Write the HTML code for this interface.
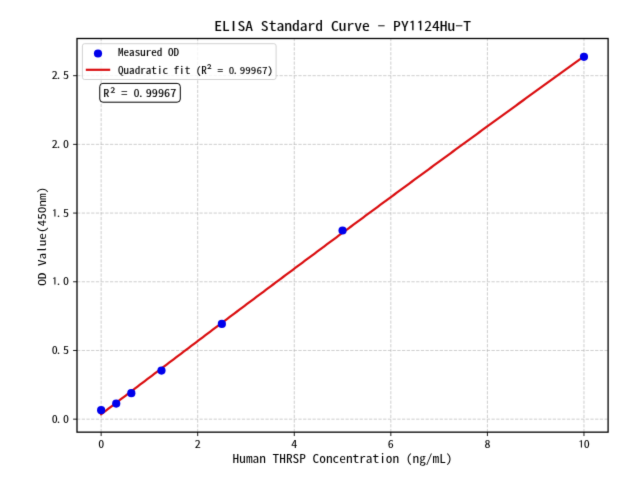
<!DOCTYPE html><html><head><meta charset="utf-8"><style>html,body{margin:0;padding:0;background:#fff;overflow:hidden}svg{display:block}text{font-family:'Noto Sans Mono CJK SC','WenQuanYi Zen Hei Mono','Noto Sans CJK SC',monospace;fill:#000;stroke:#000}</style></head><body>
<svg width="640" height="480" viewBox="0 0 640 480">
<defs><filter id="soft" x="0" y="0" width="640" height="480" filterUnits="userSpaceOnUse" color-interpolation-filters="sRGB"><feConvolveMatrix order="3" kernelMatrix="0.0100 0.0800 0.0100 0.0800 0.6400 0.0800 0.0100 0.0800 0.0100" edgeMode="duplicate"/></filter></defs>
<g filter="url(#soft)">
<rect width="640" height="480" fill="#fff"/>
<g stroke="#b0b0b0" stroke-opacity="0.7" stroke-width="0.89" stroke-dasharray="3.29 1.42" fill="none"><line x1="101.14" y1="432.15" x2="101.14" y2="38.50"/><line x1="197.70" y1="432.15" x2="197.70" y2="38.50"/><line x1="294.27" y1="432.15" x2="294.27" y2="38.50"/><line x1="390.83" y1="432.15" x2="390.83" y2="38.50"/><line x1="487.40" y1="432.15" x2="487.40" y2="38.50"/><line x1="583.96" y1="432.15" x2="583.96" y2="38.50"/><line x1="77.00" y1="419.17" x2="608.10" y2="419.17"/><line x1="77.00" y1="350.47" x2="608.10" y2="350.47"/><line x1="77.00" y1="281.77" x2="608.10" y2="281.77"/><line x1="77.00" y1="213.07" x2="608.10" y2="213.07"/><line x1="77.00" y1="144.37" x2="608.10" y2="144.37"/><line x1="77.00" y1="75.68" x2="608.10" y2="75.68"/></g>
<polyline points="101.14,414.26 103.57,412.41 105.99,410.56 108.42,408.71 110.85,406.86 113.27,405.02 115.70,403.17 118.12,401.32 120.55,399.48 122.98,397.63 125.40,395.79 127.83,393.95 130.26,392.10 132.68,390.26 135.11,388.42 137.53,386.58 139.96,384.73 142.39,382.89 144.81,381.05 147.24,379.21 149.67,377.37 152.09,375.54 154.52,373.70 156.94,371.86 159.37,370.02 161.80,368.19 164.22,366.35 166.65,364.51 169.08,362.68 171.50,360.84 173.93,359.01 176.35,357.18 178.78,355.34 181.21,353.51 183.63,351.68 186.06,349.85 188.48,348.02 190.91,346.19 193.34,344.36 195.76,342.53 198.19,340.70 200.62,338.87 203.04,337.04 205.47,335.21 207.89,333.39 210.32,331.56 212.75,329.73 215.17,327.91 217.60,326.08 220.03,324.26 222.45,322.43 224.88,320.61 227.30,318.79 229.73,316.97 232.16,315.14 234.58,313.32 237.01,311.50 239.44,309.68 241.86,307.86 244.29,306.04 246.71,304.22 249.14,302.41 251.57,300.59 253.99,298.77 256.42,296.95 258.85,295.14 261.27,293.32 263.70,291.51 266.12,289.69 268.55,287.88 270.98,286.06 273.40,284.25 275.83,282.44 278.26,280.63 280.68,278.81 283.11,277.00 285.53,275.19 287.96,273.38 290.39,271.57 292.81,269.76 295.24,267.96 297.66,266.15 300.09,264.34 302.52,262.53 304.94,260.73 307.37,258.92 309.80,257.12 312.22,255.31 314.65,253.51 317.07,251.70 319.50,249.90 321.93,248.10 324.35,246.29 326.78,244.49 329.21,242.69 331.63,240.89 334.06,239.09 336.48,237.29 338.91,235.49 341.34,233.69 343.76,231.89 346.19,230.09 348.62,228.30 351.04,226.50 353.47,224.70 355.89,222.91 358.32,221.11 360.75,219.32 363.17,217.52 365.60,215.73 368.03,213.94 370.45,212.14 372.88,210.35 375.30,208.56 377.73,206.77 380.16,204.98 382.58,203.19 385.01,201.40 387.44,199.61 389.86,197.82 392.29,196.03 394.71,194.25 397.14,192.46 399.57,190.67 401.99,188.89 404.42,187.10 406.84,185.32 409.27,183.53 411.70,181.75 414.12,179.96 416.55,178.18 418.98,176.40 421.40,174.62 423.83,172.84 426.25,171.05 428.68,169.27 431.11,167.49 433.53,165.71 435.96,163.94 438.39,162.16 440.81,160.38 443.24,158.60 445.66,156.83 448.09,155.05 450.52,153.27 452.94,151.50 455.37,149.72 457.80,147.95 460.22,146.18 462.65,144.40 465.07,142.63 467.50,140.86 469.93,139.09 472.35,137.31 474.78,135.54 477.21,133.77 479.63,132.00 482.06,130.23 484.48,128.47 486.91,126.70 489.34,124.93 491.76,123.16 494.19,121.40 496.62,119.63 499.04,117.87 501.47,116.10 503.89,114.34 506.32,112.57 508.75,110.81 511.17,109.04 513.60,107.28 516.02,105.52 518.45,103.76 520.88,102.00 523.30,100.24 525.73,98.48 528.16,96.72 530.58,94.96 533.01,93.20 535.43,91.44 537.86,89.69 540.29,87.93 542.71,86.17 545.14,84.42 547.57,82.66 549.99,80.91 552.42,79.15 554.84,77.40 557.27,75.65 559.70,73.89 562.12,72.14 564.55,70.39 566.98,68.64 569.40,66.89 571.83,65.14 574.25,63.39 576.68,61.64 579.11,59.89 581.53,58.14 583.96,56.39" fill="none" stroke="rgb(218,14,16)" stroke-width="2.2" stroke-linejoin="round" stroke-linecap="square"/>
<circle cx="101.14" cy="410.17" r="4.1" fill="rgb(0,0,235)"/>
<circle cx="116.23" cy="403.58" r="4.1" fill="rgb(0,0,235)"/>
<circle cx="131.32" cy="393.20" r="4.1" fill="rgb(0,0,235)"/>
<circle cx="161.49" cy="370.53" r="4.1" fill="rgb(0,0,235)"/>
<circle cx="221.85" cy="323.95" r="4.1" fill="rgb(0,0,235)"/>
<circle cx="342.55" cy="230.52" r="4.1" fill="rgb(0,0,235)"/>
<circle cx="583.96" cy="56.85" r="4.1" fill="rgb(0,0,235)"/>
<rect x="77.00" y="38.50" width="531.10" height="393.65" fill="none" stroke="#000" stroke-width="1.3"/>
<g stroke="#000" stroke-width="0.89"><line x1="101.14" y1="432.15" x2="101.14" y2="436.04"/><line x1="197.70" y1="432.15" x2="197.70" y2="436.04"/><line x1="294.27" y1="432.15" x2="294.27" y2="436.04"/><line x1="390.83" y1="432.15" x2="390.83" y2="436.04"/><line x1="487.40" y1="432.15" x2="487.40" y2="436.04"/><line x1="583.96" y1="432.15" x2="583.96" y2="436.04"/><line x1="77.00" y1="419.17" x2="73.11" y2="419.17"/><line x1="77.00" y1="350.47" x2="73.11" y2="350.47"/><line x1="77.00" y1="281.77" x2="73.11" y2="281.77"/><line x1="77.00" y1="213.07" x2="73.11" y2="213.07"/><line x1="77.00" y1="144.37" x2="73.11" y2="144.37"/><line x1="77.00" y1="75.68" x2="73.11" y2="75.68"/></g>
<text transform="translate(101.14,448.10) scale(1,0.86)" x="0.00" y="0" font-size="12.0" text-anchor="middle" stroke-width="0.06">0</text>
<text transform="translate(197.70,448.10) scale(1,0.86)" x="0.00" y="0" font-size="12.0" text-anchor="middle" stroke-width="0.06">2</text>
<text transform="translate(294.27,448.10) scale(1,0.86)" x="0.00" y="0" font-size="12.0" text-anchor="middle" stroke-width="0.06">4</text>
<text transform="translate(390.83,448.10) scale(1,0.86)" x="0.00" y="0" font-size="12.0" text-anchor="middle" stroke-width="0.06">6</text>
<text transform="translate(487.40,448.10) scale(1,0.86)" x="0.00" y="0" font-size="12.0" text-anchor="middle" stroke-width="0.06">8</text>
<text transform="translate(583.96,448.10) scale(1,0.86)" x="-2.78 2.78" y="0" font-size="12.0" text-anchor="middle" stroke-width="0.06"><tspan font-family="IPAGothic,'Noto Sans Mono CJK SC',monospace">1</tspan>0</text>
<text transform="translate(68.71,423.37) scale(1,0.86)" x="-13.89 -10.13 -2.78" y="0" font-size="12.0" text-anchor="middle" stroke-width="0.06">0.0</text>
<text transform="translate(68.71,353.67) scale(1,0.86)" x="-13.89 -10.13 -2.78" y="0" font-size="12.0" text-anchor="middle" stroke-width="0.06">0.5</text>
<text transform="translate(68.71,284.97) scale(1,0.86)" x="-13.89 -10.13 -2.78" y="0" font-size="12.0" text-anchor="middle" stroke-width="0.06"><tspan font-family="IPAGothic,'Noto Sans Mono CJK SC',monospace">1</tspan>.0</text>
<text transform="translate(68.71,217.27) scale(1,0.86)" x="-13.89 -10.13 -2.78" y="0" font-size="12.0" text-anchor="middle" stroke-width="0.06"><tspan font-family="IPAGothic,'Noto Sans Mono CJK SC',monospace">1</tspan>.5</text>
<text transform="translate(68.71,147.57) scale(1,0.86)" x="-13.89 -10.13 -2.78" y="0" font-size="12.0" text-anchor="middle" stroke-width="0.06">2.0</text>
<text transform="translate(68.71,78.88) scale(1,0.86)" x="-13.89 -10.13 -2.78" y="0" font-size="12.0" text-anchor="middle" stroke-width="0.06">2.5</text>
<text transform="translate(342.55,463.00) scale(1,0.88)" x="-106.64 -99.97 -93.31 -86.64 -79.98 -73.31 -66.65 -59.98 -53.32 -46.65 -39.99 -33.32 -26.66 -19.99 -13.33 -6.66 0.00 6.67 13.33 20.00 26.66 33.33 39.99 46.66 53.32 59.99 66.65 73.32 79.98 86.65 93.31 99.98 106.64" y="0" font-size="13.33" text-anchor="middle" stroke-width="0">Human THRSP Concentrat<tspan font-family="'Noto Sans CJK SC','Noto Sans Mono CJK SC',sans-serif">i</tspan>on (ng/mL)</text>
<text transform="translate(45.60,236.30) rotate(-90) scale(1,0.82)" x="-46.20 -39.60 -33.00 -26.40 -19.80 -13.20 -6.60 0.00 6.60 13.20 19.80 26.40 33.00 39.60 46.20" y="0" font-size="13.33" text-anchor="middle" stroke-width="0">OD Va<tspan font-family="'Noto Sans CJK SC','Noto Sans Mono CJK SC',sans-serif">l</tspan>ue(450nm)</text>
<text transform="translate(342.55,31.40) scale(1,0.88)" x="-124.48 -116.70 -108.92 -101.14 -93.36 -85.58 -77.80 -70.02 -62.24 -54.46 -46.68 -38.90 -31.12 -23.34 -15.56 -7.78 0.00 7.78 15.56 23.34 31.12 38.90 46.68 54.46 62.24 70.02 77.80 85.58 93.36 101.14 108.92 116.70 124.48" y="0" font-size="15.56" text-anchor="middle" stroke-width="0.12">EL<tspan font-family="'Noto Sans CJK SC','Noto Sans Mono CJK SC',sans-serif">I</tspan>SA Standard Curve <tspan font-family="IPAGothic,'Noto Sans Mono CJK SC',monospace">-</tspan> PY<tspan font-family="IPAGothic,'Noto Sans Mono CJK SC',monospace">1</tspan><tspan font-family="IPAGothic,'Noto Sans Mono CJK SC',monospace">1</tspan>24Hu<tspan font-family="IPAGothic,'Noto Sans Mono CJK SC',monospace">-</tspan>T</text>
<rect x="82.4" y="43.7" width="193.70000000000002" height="35.8" rx="2.2" fill="#fff" fill-opacity="0.8" stroke="#cccccc" stroke-width="0.89"/>
<circle cx="98.0" cy="53.5" r="4.1" fill="rgb(0,0,235)"/>
<line x1="86.9" y1="69.8" x2="109.1" y2="69.8" stroke="rgb(218,14,16)" stroke-width="2.2" stroke-linecap="square"/>
<text transform="translate(118.00,56.20) scale(1,0.88)" x="2.78 8.33 13.89 19.44 25.00 30.55 36.11 41.66 47.22 52.77 58.33" y="0" font-size="11.11" text-anchor="middle" stroke-width="0.15">Measured OD</text>
<text transform="translate(118.00,73.50) scale(1,0.88)" x="2.78 8.33 13.89 19.44 25.00 30.55 36.11 41.66 47.22 52.77 58.33 63.88 69.44 74.99 80.55 86.10 91.43 96.76 102.31 107.87 113.42 117.31 124.53 130.09 135.64 141.20 146.75 152.31" y="0 0 0 0 0 0 0 0 0 0 0 0 0 0 0 0 0.7 0 0 0 0 0 0 0 0 0 0 0" font-size="11.11" text-anchor="middle" stroke-width="0.1">Quadrat<tspan font-family="'Noto Sans CJK SC','Noto Sans Mono CJK SC',sans-serif">i</tspan>c f<tspan font-family="'Noto Sans CJK SC','Noto Sans Mono CJK SC',sans-serif">i</tspan>t (R<tspan font-size="12.5">²</tspan> = 0.99967)</text>
<rect x="99.75" y="83.4" width="80.55" height="18.80" rx="3.2" fill="#fff" fill-opacity="0.8" stroke="#000" stroke-width="1.0"/>
<text transform="translate(103.20,96.70) scale(1,0.88)" x="3.06 9.51 15.07 21.18 27.29 33.40 37.67 45.62 51.73 57.84 63.95 70.06" y="0 1.1 0 0 0 0 0 0 0 0 0 0" font-size="12.22" text-anchor="middle" stroke-width="0.12">R<tspan font-size="13.6">²</tspan> = 0.99967</text>
</g></svg></body></html>
